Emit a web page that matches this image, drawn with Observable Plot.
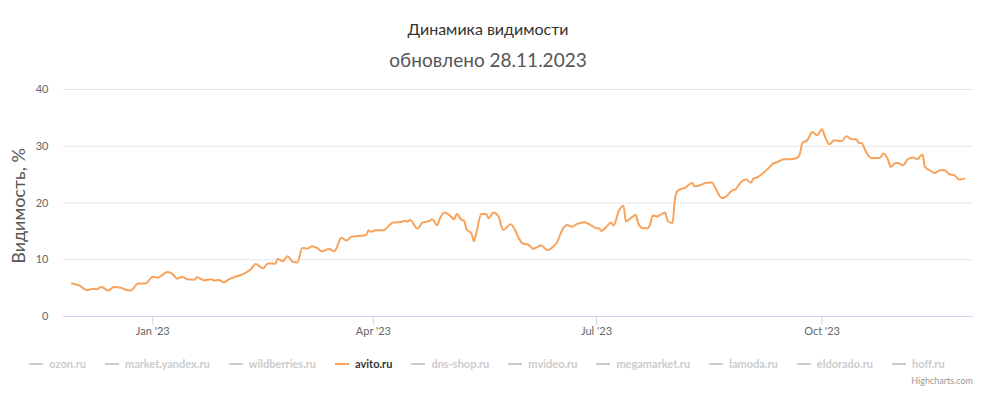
<!DOCTYPE html>
<html>
<head>
<meta charset="utf-8">
<script src="https://cdn.jsdelivr.net/npm/d3@7"></script>
<script src="https://cdn.jsdelivr.net/npm/@observablehq/plot@0.6"></script>
<style>
  html, body { margin: 0; padding: 0; background: #fff; }
  #wrap { position: relative; width: 1000px; height: 403px; overflow: hidden; font-family: Lato, "Noto Sans", sans-serif; }
  #title { position: absolute; top: 19px; left: 0; width: 976px; text-align: center; font-size: 16px; color: #333; }
  #subtitle { position: absolute; top: 48px; left: 0; width: 976px; text-align: center; font-size: 19px; color: #555; }
  #ylabel { position: absolute; z-index: 2; left: 18px; top: 206px; transform: translate(-50%, -50%) rotate(-90deg); font-size: 18px; color: #555; white-space: nowrap; }
  #chart { position: absolute; z-index: 1; left: 0; top: 80px; }
  #legend { position: absolute; left: 0; top: 357px; width: 974px; display: flex; justify-content: center; gap: 19px; font-size: 11px; font-weight: bold; }
  .item { display: flex; align-items: center; gap: 6px; color: #cccccc; }
  .sym { width: 14px; height: 2px; background: #cccccc; }
  #credit { position: absolute; right: 27px; top: 375px; font-size: 9px; color: #999; }
</style>
</head>
<body>
<div id="wrap">
  <div id="title"></div>
  <div id="subtitle"></div>
  <div id="ylabel"></div>
  <div id="chart"></div>
  <div id="legend"></div>
  <div id="credit">Highcharts.com</div>
</div>
<script>
const titleText = "Динамика видимости";
const subtitleText = "обновлено 28.11.2023";
const yLabel = "Видимость, %";
const seriesNames = ["ozon.ru", "market.yandex.ru", "wildberries.ru", "avito.ru", "dns-shop.ru", "mvideo.ru", "megamarket.ru", "lamoda.ru", "eldorado.ru", "hoff.ru"];
const activeSeries = "avito.ru";
const yTicks = [0, 10, 20, 30, 40];
const xTickDates = ["2023-01-01", "2023-04-01", "2023-07-01", "2023-10-01"];
const xTickLabels = ["Jan '23", "Apr '23", "Jul '23", "Oct '23"];

const dates = [
  "2022-11-29","2022-12-02","2022-12-05","2022-12-08","2022-12-09","2022-12-11","2022-12-14","2022-12-16","2022-12-19","2022-12-21",
  "2022-12-23","2022-12-26","2022-12-29","2023-01-01","2023-01-03","2023-01-07","2023-01-09","2023-01-11","2023-01-13","2023-01-15",
  "2023-01-18","2023-01-19","2023-01-22","2023-01-25","2023-01-26","2023-01-28","2023-01-30","2023-02-01","2023-02-03","2023-02-06",
  "2023-02-08","2023-02-10","2023-02-12","2023-02-14","2023-02-15","2023-02-17","2023-02-20","2023-02-21","2023-02-23","2023-02-25",
  "2023-02-27","2023-03-01","2023-03-03","2023-03-05","2023-03-07","2023-03-09","2023-03-11","2023-03-14","2023-03-16","2023-03-19",
  "2023-03-21","2023-03-23","2023-03-26","2023-03-29","2023-03-30","2023-03-31","2023-04-02","2023-04-05","2023-04-09","2023-04-12",
  "2023-04-14","2023-04-15","2023-04-16","2023-04-19","2023-04-21","2023-04-24","2023-04-25","2023-04-27","2023-04-28","2023-04-30",
  "2023-05-02","2023-05-04","2023-05-05","2023-05-07","2023-05-08","2023-05-09","2023-05-11","2023-05-12","2023-05-13","2023-05-15",
  "2023-05-17","2023-05-18","2023-05-20","2023-05-22","2023-05-24","2023-05-27","2023-05-29","2023-05-30","2023-06-01","2023-06-03",
  "2023-06-04","2023-06-05","2023-06-07","2023-06-08","2023-06-09","2023-06-11","2023-06-13","2023-06-15","2023-06-17","2023-06-19",
  "2023-06-21","2023-06-23","2023-06-24","2023-06-26","2023-06-29","2023-07-01","2023-07-02","2023-07-03","2023-07-05","2023-07-07",
  "2023-07-08","2023-07-10","2023-07-12","2023-07-13","2023-07-15","2023-07-17","2023-07-18","2023-07-20","2023-07-22","2023-07-23",
  "2023-07-24","2023-07-26","2023-07-27","2023-07-29","2023-07-30","2023-08-01","2023-08-02","2023-08-03","2023-08-05","2023-08-06",
  "2023-08-09","2023-08-10","2023-08-13","2023-08-15","2023-08-17","2023-08-19","2023-08-21","2023-08-23","2023-08-25","2023-08-27",
  "2023-08-29","2023-08-31","2023-09-02","2023-09-03","2023-09-05","2023-09-07","2023-09-09","2023-09-11","2023-09-13","2023-09-15",
  "2023-09-17","2023-09-19","2023-09-21","2023-09-22","2023-09-23","2023-09-25","2023-09-27","2023-09-28","2023-09-29","2023-10-01",
  "2023-10-02","2023-10-04","2023-10-06","2023-10-09","2023-10-11","2023-10-13","2023-10-15","2023-10-16","2023-10-17","2023-10-19",
  "2023-10-21","2023-10-24","2023-10-25","2023-10-26","2023-10-28","2023-10-29","2023-10-31","2023-11-01","2023-11-03","2023-11-05",
  "2023-11-07","2023-11-09","2023-11-10","2023-11-11","2023-11-12","2023-11-14","2023-11-16","2023-11-18","2023-11-20","2023-11-22",
  "2023-11-24","2023-11-26","2023-11-28"
];
const avito = [
  5.83,5.48,4.64,4.88,4.80,5.18,4.58,5.18,5.06,4.70,
  4.58,5.83,5.83,7.02,6.85,7.86,7.50,6.67,7.02,6.55,
  6.49,6.90,6.37,6.55,6.31,6.43,6.00,6.55,6.90,7.32,
  7.74,8.33,9.23,8.70,8.51,9.35,9.29,10.18,9.70,10.60,
  9.70,9.52,12.08,11.96,12.38,12.08,11.49,11.90,11.49,13.87,
  13.39,14.05,14.17,14.35,15.18,14.94,15.18,15.18,16.55,16.67,
  16.85,16.73,17.02,15.48,16.55,16.85,17.14,16.07,17.14,18.33,
  17.86,17.14,18.04,17.02,16.85,15.36,14.64,13.27,14.76,18.04,
  18.04,17.32,18.33,17.62,15.24,16.25,15.06,14.05,12.86,12.68,
  12.38,11.96,12.26,12.56,12.38,11.67,12.14,13.15,15.24,16.13,
  15.83,16.31,16.43,16.61,16.01,15.54,15.54,15.06,15.83,16.55,
  16.01,18.51,19.52,16.73,17.32,17.92,16.43,15.54,15.54,16.43,
  17.80,17.62,17.92,18.33,16.90,16.43,20.60,22.10,22.53,22.65,
  23.53,22.94,23.24,23.59,23.60,22.24,20.88,21.18,22.12,22.53,
  23.71,24.12,23.59,24.29,24.59,25.29,26.06,26.94,27.24,27.65,
  27.71,27.76,28.00,28.71,30.59,31.06,32.53,32.24,31.94,33.00,
  31.94,30.35,31.06,30.88,31.76,31.24,31.24,30.59,30.59,29.00,
  27.94,27.94,28.12,28.71,27.53,26.35,27.06,27.06,26.65,27.71,
  28.00,27.71,28.24,28.53,26.35,25.76,25.29,25.76,25.76,25.06,
  24.88,24.12,24.29
];

const parse = d3.utcParse("%Y-%m-%d");
const data = dates.map((d, i) => ({date: parse(d), value: avito[i]}));
const tickDates = xTickDates.map(parse);

document.getElementById("title").textContent = titleText;
document.getElementById("subtitle").textContent = subtitleText;
document.getElementById("ylabel").textContent = yLabel;

const chart = Plot.plot({
  width: 1000,
  height: 260,
  marginTop: 9,
  marginBottom: 24,
  marginLeft: 63,
  marginRight: 27,
  style: {fontFamily: "Lato, 'Noto Sans', sans-serif", background: "transparent"},
  x: {type: "utc", domain: [new Date(Date.UTC(2022, 10, 25, 14)), new Date(Date.UTC(2023, 11, 1, 19))]},
  y: {domain: [0, 40]},
  marks: [
    Plot.gridY(yTicks.filter(d => d > 0), {stroke: "#e6e6e6", strokeOpacity: 1}),
    Plot.ruleY([0], {stroke: "#ccd6eb"}),
    Plot.axisY(yTicks, {tickSize: 0, tickPadding: 15, fill: "#666", fontSize: 11, label: null}),
    Plot.axisX(tickDates, {tickSize: 9, tickPadding: 2, stroke: "#ccd6eb", fill: "#666", fontSize: 11, label: null,
      tickFormat: (d) => xTickLabels[tickDates.findIndex(t => +t === +d)]}),
    Plot.lineY(data, {x: "date", y: "value", stroke: "#f7a35c", strokeWidth: 2, curve: "monotone-x"})
  ]
});
document.getElementById("chart").appendChild(chart);

const legend = document.getElementById("legend");
seriesNames.forEach(name => {
  const item = document.createElement("div");
  item.className = "item";
  const sym = document.createElement("div");
  sym.className = "sym";
  const label = document.createElement("span");
  label.textContent = name;
  if (name === activeSeries) {
    item.style.color = "#333";
    sym.style.background = "#f7a35c";
  }
  item.appendChild(sym);
  item.appendChild(label);
  legend.appendChild(item);
});
</script>
</body>
</html>
